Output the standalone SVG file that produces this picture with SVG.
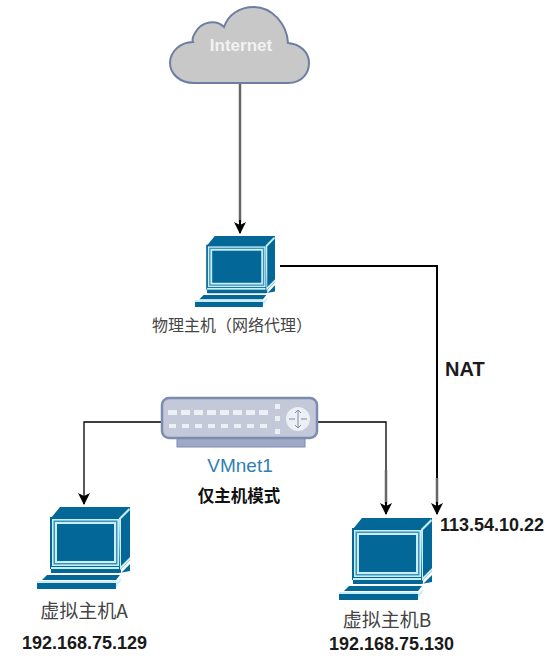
<svg xmlns="http://www.w3.org/2000/svg" xmlns:xlink="http://www.w3.org/1999/xlink" width="552" height="666" viewBox="0 0 552 666">
<style>
text{font-family:"Liberation Sans","Noto Sans CJK SC",sans-serif}
.cn{font-family:"Noto Sans CJK SC","Liberation Sans",sans-serif}
.b{font-weight:700;fill:#1a1a1a;font-size:18px}
.lab{fill:#444;text-anchor:middle}
.conn{fill:none;stroke-width:2}
.g{stroke:#666;stroke-width:2.5}
.k{stroke:#000}
.d{fill:#036897}
.l{fill:#c8eef8}
.m{fill:#3f93b8}
</style>
<defs>
<marker id="ah" markerUnits="userSpaceOnUse" markerWidth="12" markerHeight="14" refX="11" refY="6" orient="auto"><path d="M0 0L12 6L0 12L3 6Z" fill="#000"/></marker>
<symbol id="pc" viewBox="0 0 93 82" preserveAspectRatio="none" overflow="visible">
<path class="d" d="M14 11L23 0H93V53L84 62V66L93 57V64L82 66H14V62H14Z"/>
<rect class="d" x="13" y="10" width="71" height="52"/>
<rect class="l" x="15" y="12" width="67" height="47"/>
<rect class="m" x="16.500" y="13.500" width="64" height="44"/>
<rect class="l" x="18" y="15" width="61" height="41"/>
<rect class="d" x="20" y="17" width="57" height="37"/>
<path class="l" d="M82 11L92 1L93 3L84 12V59L93 50V53L83 63Z"/>
<rect class="l" x="14" y="60" width="68" height="2"/>
<path class="d" d="M5 73L10 68H83L79 73Z"/>
<rect class="d" x="0" y="76" width="79" height="6"/>
<rect class="l" x="0" y="74" width="79" height="2"/>
<path class="l" d="M79 80V76L84 71V74Z"/>
</symbol>
</defs>
<rect width="552" height="666" fill="#fff"/>
<g id="connectors">
<path class="conn g" d="M240 83V222"/>
<path class="conn k" d="M240 220V233" marker-end="url(#ah)"/>
<path class="conn k" d="M280 266H437V480"/>
<path class="conn g" d="M437 478V504"/>
<path class="conn k" d="M437 502V514" marker-end="url(#ah)"/>
<path class="conn k" d="M161 422H84V504" marker-end="url(#ah)" style="stroke-width:1.3"/>
<path class="conn k" d="M318 422H386V470" style="stroke-width:1.3"/>
<path class="conn g" d="M386 470V504"/>
<path class="conn k" d="M386 502V514" marker-end="url(#ah)"/>
</g>
<g id="internet">
<path d="M194 83H288C303 83 309 72 309 63C309 52 300 44 288 43C287 24 272 7 254 7C239 7 228 15 224 27C217 20 202 20 195 33C192 38 192 40 193 42C180 42 170 52 170 63C170 74 180 83 194 83Z" fill="#c8c8c8" stroke="#6d7ea3" stroke-width="2"/>
<text x="241" y="51" font-size="17" font-weight="700" fill="#f2f2f2" text-anchor="middle">Internet</text>
</g>
<g id="host">
<use xlink:href="#pc" href="#pc" x="195" y="236" width="80" height="71"/>
<text class="cn lab" x="232" y="331" font-size="16">物理主机（网络代理）</text>
</g>
<g id="vmnet1">
<rect x="177" y="436" width="128" height="11" fill="#9fa9c6" stroke="#7d8bb0"/>
<rect x="162" y="398" width="155" height="40" rx="7" fill="#c3c9d8" stroke="#7d8bb0" stroke-width="2.500"/>
<g fill="#eceff4">
<rect x="168" y="410" width="9" height="5"/><rect x="181" y="410" width="9" height="5"/><rect x="194" y="410" width="9" height="5"/><rect x="207" y="410" width="9" height="5"/><rect x="220" y="410" width="9" height="5"/><rect x="233" y="410" width="9" height="5"/><rect x="246" y="410" width="9" height="5"/><rect x="259" y="410" width="9" height="5"/>
<rect x="169" y="424" width="7" height="4"/><rect x="182" y="424" width="7" height="4"/><rect x="195" y="424" width="7" height="4"/><rect x="208" y="424" width="7" height="4"/><rect x="221" y="424" width="7" height="4"/><rect x="234" y="424" width="7" height="4"/><rect x="247" y="424" width="7" height="4"/><rect x="260" y="424" width="7" height="4"/>
<rect x="275" y="404" width="5" height="5"/><rect x="275" y="416" width="5" height="5"/><rect x="275" y="429" width="5" height="5"/>
<circle cx="298" cy="419" r="12"/>
</g>
<path d="M298 411V427M289 419H295M301 419H307M295 413L298 410L301 413M295 425L298 428L301 425" fill="none" stroke="#7d8bb0" stroke-width="1"/>
<text x="240" y="472" font-size="19" fill="#2f7fb5" text-anchor="middle">VMnet1</text>
<text class="cn" x="239" y="502" font-size="16.500" font-weight="700" fill="#111" text-anchor="middle">仅主机模式</text>
</g>
<g id="vm-a">
<use xlink:href="#pc" href="#pc" x="37" y="507" width="93" height="82"/>
<text class="cn lab" x="84" y="618" font-size="19">虚拟主机A</text>
<text class="b" x="22" y="649">192.168.75.129</text>
</g>
<g id="vm-b">
<use xlink:href="#pc" href="#pc" x="339" y="518" width="93" height="82"/>
<text class="cn lab" x="387" y="627" font-size="19">虚拟主机B</text>
<text class="b" x="329" y="650">192.168.75.130</text>
</g>
<text class="b" x="440" y="531">113.54.10.22</text>
<text class="b" x="445" y="376" style="font-size:20px">NAT</text>
</svg>
